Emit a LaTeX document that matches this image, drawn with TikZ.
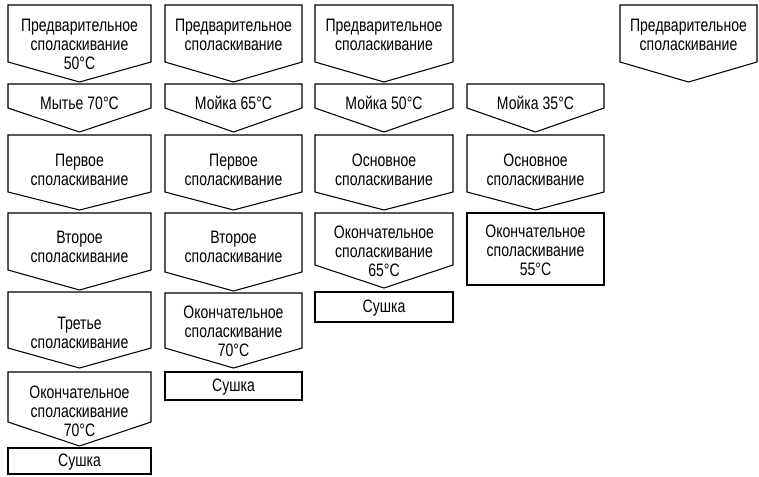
\documentclass[tikz,border=0pt]{standalone}
\usepackage{fontspec}
\setmainfont{Liberation Sans}[FakeStretch=0.78]
\begin{document}
\begin{tikzpicture}[x=0.75pt,y=-0.75pt,
  box/.style={draw=black,line width=0.8pt,line join=miter},
  txt/.style={inner sep=0pt,align=center,font=\fontsize{13.5}{14.3}\selectfont}]
\useasboundingbox (0,0) rectangle (759,476);
\newcommand\pbox[8]{%
  \draw[box] (#2,#4) -- (#3,#4) -- (#3,#5) -- ({(#2+#3)/2},#6) -- (#2,#5) -- cycle;
  \node[txt] (#1) at ({(#2+#3)/2},#7) {#8};}
\newcommand\rbox[6]{%
  \draw[box] (#2,#4) rectangle (#3,#5);
  \node[txt] (#1) at ({(#2+#3)/2},#6) {Сушка};}
% column 1
\pbox{a1}{8}{151}{5}{62}{82}{44}{Предварительное\\споласкивание\\50°C}
\pbox{a2}{8}{151}{84}{108}{132}{103}{Мытье 70°C}
\pbox{a3}{8}{151}{135}{192}{210}{170}{Первое\\споласкивание}
\pbox{a4}{8}{151}{213}{270}{290}{247}{Второе\\споласкивание}
\pbox{a5}{8}{151}{292}{348}{368}{333}{Третье\\споласкивание}
\pbox{a6}{8}{151}{372}{422}{446}{411}{Окончательное\\споласкивание\\70°C}
\rbox{a7}{8}{151}{448}{474}{462}
% column 2
\pbox{b1}{165}{302}{5}{62}{82}{35}{Предварительное\\споласкивание}
\pbox{b2}{165}{302}{84}{108}{132}{103}{Мойка 65°C}
\pbox{b3}{165}{302}{135}{192}{210}{170}{Первое\\споласкивание}
\pbox{b4}{165}{302}{213}{272}{291}{247}{Второе\\споласкивание}
\pbox{b5}{165}{302}{293}{348}{368}{331}{Окончательное\\споласкивание\\70°C}
\rbox{b6}{165}{302}{372}{400}{387}
% column 3
\pbox{c1}{315}{453}{5}{62}{82}{35}{Предварительное\\споласкивание}
\pbox{c2}{315}{453}{84}{108}{132}{103}{Мойка 50°C}
\pbox{c3}{315}{453}{135}{192}{210}{170}{Основное\\споласкивание}
\pbox{c4}{315}{453}{213}{265}{288}{251}{Окончательное\\споласкивание\\65°C}
\rbox{c5}{315}{453}{292}{322}{308}
% column 4
\pbox{d2}{467}{604}{84}{108}{132}{103}{Мойка 35°C}
\pbox{d3}{467}{604}{135}{192}{210}{170}{Основное\\споласкивание}
\draw[box] (467,213) rectangle (604,285);
\node[txt] (d4) at (535.5,250) {Окончательное\\споласкивание\\55°C};
% column 5
\pbox{e1}{620}{757}{5}{62}{82}{35}{Предварительное\\споласкивание}
\end{tikzpicture}
\end{document}
